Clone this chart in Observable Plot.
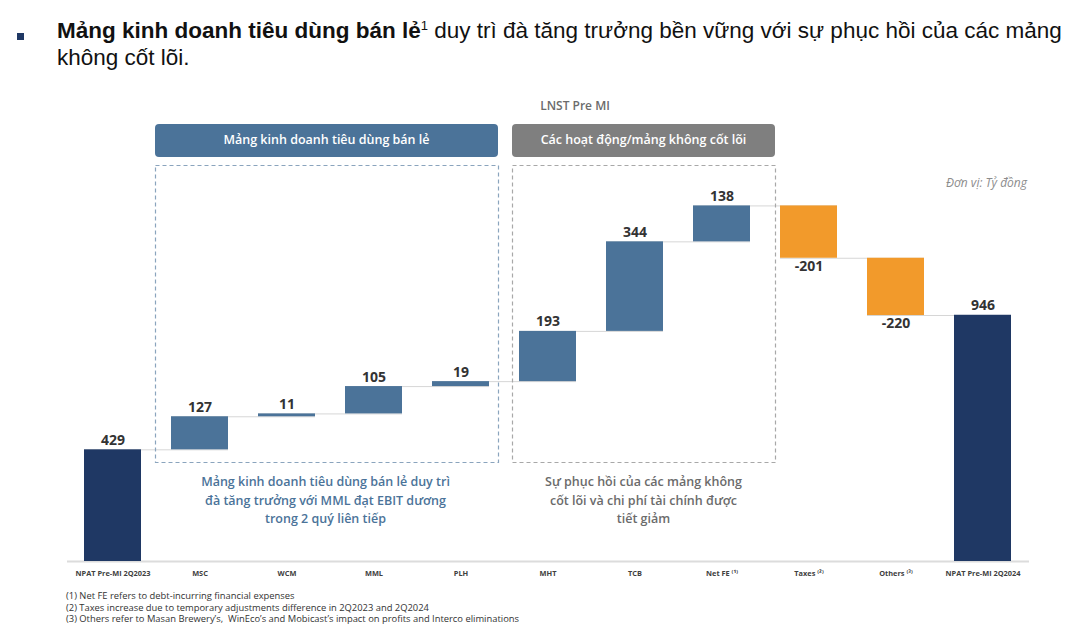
<!DOCTYPE html>
<html>
<head>
<meta charset="utf-8">
<script src="https://cdn.jsdelivr.net/npm/d3@7"></script>
<script src="https://cdn.jsdelivr.net/npm/@observablehq/plot@0.6"></script>
<style>
  body { margin: 0; width: 1080px; height: 637px; overflow: hidden; background: #fff; }
  #title { position: relative; height: 88px; font-family: "Liberation Sans", Arial, sans-serif; font-size: 22.5px; color: #111; }
  #title .bullet { position: absolute; left: 17px; top: 33px; width: 7px; height: 7px; background: #1f3864; }
  #title .txt { position: absolute; left: 57px; top: 17px; line-height: 27px; white-space: nowrap; }
  #title sup { font-size: 13px; vertical-align: 8px; line-height: 0; }
  #chart svg { display: block; }
  #notes { position: relative; height: 52px; font-family: "Open Sans", sans-serif; font-size: 9.4px; color: #333; }
  #notes .txt { position: absolute; left: 66px; top: 5px; line-height: 11.7px; white-space: nowrap; }
</style>
</head>
<body>
<div id="title">
  <div class="bullet"></div>
  <div class="txt"><b>Mảng kinh doanh tiêu dùng bán lẻ</b><sup>1</sup> duy trì đà tăng trưởng bền vững với sự phục hồi của các mảng<br>không cốt lõi.</div>
</div>
<div id="chart"></div>
<div id="notes"><div class="txt">
(1) Net FE refers to debt-incurring financial expenses<br>
(2) Taxes increase due to temporary adjustments difference in 2Q2023 and 2Q2024<br>
(3) Others refer to Masan Brewery’s,&nbsp; WinEco’s and Mobicast’s impact on profits and Interco eliminations
</div></div>
<script>
// ---- Data ----
const categories = ["NPAT Pre-MI 2Q2023", "MSC", "WCM", "MML", "PLH", "MHT", "TCB", "Net FE ⁽¹⁾", "Taxes ⁽²⁾", "Others ⁽³⁾", "NPAT Pre-MI 2Q2024"];
const values = [429, 127, 11, 105, 19, 193, 344, 138, -201, -220, 946];
const kinds = ["total", "step", "step", "step", "step", "step", "step", "step", "step", "step", "total"];

// ---- Waterfall table ----
let running = 0;
const rows = categories.map((c, i) => {
  const v = values[i];
  let y1, y2;
  if (kinds[i] === "total") { y1 = 0; y2 = v; running = v; }
  else { y1 = running; y2 = running + v; running = y2; }
  const type = kinds[i] === "total" ? "total" : (v >= 0 ? "up" : "down");
  return {cat: c, value: v, y1, y2, type};
});
const connectors = rows.slice(0, -1).map((r, i) => ({x1: r.cat, x2: rows[i + 1].cat, level: r.y2}));

const colors = {total: "#1f3864", up: "#4b7399", down: "#f29a2b"};

const chart = Plot.plot({
  width: 1080,
  height: 497,
  marginLeft: 67,
  marginRight: 51,
  marginTop: 56,
  marginBottom: 24,
  x: {domain: categories, paddingInner: 0.34, paddingOuter: 0.17, axis: null},
  y: {domain: [0, 1602], axis: null},
  style: {fontFamily: "'Open Sans', sans-serif", background: "#fff"},
  marks: [
    Plot.ruleY(connectors, {x1: "x1", x2: "x2", y: "level", stroke: "#d6d6d6", strokeWidth: 1}),
    Plot.ruleY([0], {stroke: "#dcdcdc", strokeWidth: 2}),
    Plot.barY(rows, {x: "cat", y1: "y1", y2: "y2", fill: d => colors[d.type]}),
    Plot.text(rows.filter(d => d.value >= 0), {x: "cat", y: "y2", text: d => String(d.value), lineAnchor: "bottom", dy: -5, fontSize: 14, fontWeight: "bold", fill: "#333"}),
    Plot.text(rows.filter(d => d.value < 0), {x: "cat", y: "y2", text: d => String(d.value), lineAnchor: "top", dy: 3, fontSize: 14, fontWeight: "bold", fill: "#333"}),
    Plot.axisX({tickSize: 0, tickPadding: 9, fontSize: 7.4, fontWeight: "bold", fill: "#404040", label: null})
  ]
});
document.getElementById("chart").appendChild(chart);

// ---- Decorations (group headers, dashed frames, notes) ----
const svg = d3.select(chart);
const deco = svg.append("g").attr("font-family", "'Open Sans', sans-serif");
deco.append("text").attr("x", 575).attr("y", 19).attr("text-anchor", "middle").attr("dominant-baseline", "middle")
  .attr("font-size", 12).attr("font-weight", 600).attr("fill", "#6b6b6b").text("LNST Pre MI");

const groups = [
  {x: 155, w: 343, fill: "#4b7399", dash: "#8aa4bd", head: "Mảng kinh doanh tiêu dùng bán lẻ",
   note: ["Mảng kinh doanh tiêu dùng bán lẻ duy trì", "đà tăng trưởng với MML đạt EBIT dương", "trong 2 quý liên tiếp"], noteColor: "#4b7399"},
  {x: 512, w: 263, fill: "#7f7f7f", dash: "#a8a8a8", head: "Các hoạt động/mảng không cốt lõi",
   note: ["Sự phục hồi của các mảng không", "cốt lõi và chi phí tài chính được", "tiết giảm"], noteColor: "#6b6b6b"}
];
groups.forEach(g => {
  deco.append("rect").attr("x", g.x).attr("y", 36).attr("width", g.w).attr("height", 33).attr("rx", 4).attr("fill", g.fill);
  deco.append("text").attr("x", g.x + g.w / 2).attr("y", 53).attr("text-anchor", "middle").attr("dominant-baseline", "middle")
    .attr("font-size", 12.5).attr("font-weight", 600).attr("fill", "#fff").text(g.head);
  deco.append("rect").attr("x", g.x + 0.5).attr("y", 77.5).attr("width", g.w).attr("height", 297).attr("fill", "none")
    .attr("stroke", g.dash).attr("stroke-width", 1.2).attr("stroke-dasharray", "4,3");
  g.note.forEach((t, k) => {
    deco.append("text").attr("x", g.x + g.w / 2 + (g === groups[0] ? -1 : 0)).attr("y", 395 + k * 18.5).attr("text-anchor", "middle")
      .attr("dominant-baseline", "middle").attr("font-size", 12.5).attr("font-weight", 600).attr("fill", g.noteColor).text(t);
  });
});
deco.append("text").attr("x", 1027).attr("y", 96).attr("text-anchor", "end").attr("dominant-baseline", "middle")
  .attr("font-size", 12).attr("font-style", "italic").attr("fill", "#8c8c8c").text("Đơn vị: Tỷ đồng");
</script>
</body>
</html>
